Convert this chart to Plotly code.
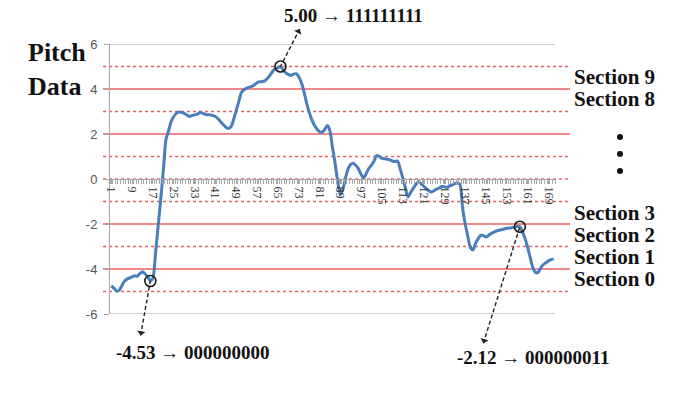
import plotly.graph_objects as go

# ---------------- data ----------------
categories = list(range(1, 172))
pitch = [
    -4.75, -4.85, -4.97, -4.95, -4.75, -4.55, -4.45, -4.40, -4.35, -4.30,
    -4.32, -4.20, -4.12, -4.22, -4.35, -4.53, -4.40, -3.30, -2.10, -0.90,
    0.40, 1.75, 2.15, 2.55, 2.78, 2.92, 2.98, 2.96, 2.92, 2.85,
    2.78, 2.82, 2.85, 2.88, 2.95, 2.93, 2.88, 2.86, 2.85, 2.82,
    2.78, 2.68, 2.55, 2.42, 2.30, 2.25, 2.32, 2.65, 3.05, 3.45,
    3.85, 3.97, 4.03, 4.08, 4.12, 4.18, 4.28, 4.32, 4.33, 4.36,
    4.48, 4.62, 4.78, 4.90, 4.95, 5.00, 4.85, 4.72, 4.65, 4.60,
    4.66, 4.68, 4.55, 4.30, 3.90, 3.40, 2.98, 2.65, 2.40, 2.22,
    2.10, 2.08, 2.20, 2.38, 2.15, 1.40, 0.70, -0.10, -0.70, -0.45,
    0.05, 0.45, 0.65, 0.70, 0.60, 0.45, 0.20, 0.05, 0.25, 0.48,
    0.62, 0.80, 1.05, 1.00, 0.92, 0.90, 0.88, 0.85, 0.80, 0.78,
    0.80, 0.45, 0.05, -0.40, -0.80, -0.60, -0.42, -0.25, -0.12, -0.20,
    -0.32, -0.42, -0.52, -0.58, -0.52, -0.45, -0.40, -0.33, -0.35, -0.37,
    -0.30, -0.27, -0.20, -0.18, -0.25, -1.30, -2.00, -2.55, -3.05, -3.15,
    -2.85, -2.65, -2.50, -2.52, -2.58, -2.50, -2.42, -2.36, -2.31, -2.28,
    -2.25, -2.22, -2.19, -2.18, -2.16, -2.14, -2.10, -2.12, -2.35, -2.65,
    -3.05, -3.50, -3.95, -4.15, -4.15, -3.95, -3.80, -3.72, -3.64, -3.58,
    -3.55,
]
x_tick_values = list(range(1, 172, 8))
x_tick_labels = [str(v) for v in x_tick_values]
y_range = [-6, 6]
y_tick_values = [-6, -4, -2, 0, 2, 4, 6]
y_tick_labels = ["-6", "-4", "-2", "0", "2", "4", "6"]
section_levels = [5, 4, 3, 2, 1, 0, -1, -2, -3, -4, -5]
marked_categories = [16, 66, 158]
marked_codes = ["000000000", "111111111", "000000011"]
upper_sections = ["Section 9", "Section 8"]
lower_sections = ["Section 3", "Section 2", "Section 1", "Section 0"]

# ---------------- layout helpers (pixel -> paper) ----------------
W, H = 685, 414
ML, MR, MT, MB = 110, 130, 44, 100
PW, PH = W - ML - MR, H - MT - MB


def px(x):
    return (x - ML) / PW


def py(y):
    return (H - MB - y) / PH


BLUE = "rgb(74,126,187)"
RED = "rgb(232,96,100)"
GRAY = "#a6a6a6"
SERIF = "Liberation Serif"

fig = go.Figure()
fig.add_trace(go.Scatter(
    x=categories, y=pitch, mode="lines",
    line=dict(color=BLUE, width=3, shape="spline", smoothing=0.7),
    hoverinfo="skip", showlegend=False,
))
mark_y = [pitch[c - 1] for c in marked_categories]
fig.add_trace(go.Scatter(
    x=marked_categories, y=mark_y, mode="markers",
    marker=dict(symbol="circle-open", size=11, color="#1a1a1a", line=dict(width=1.6)),
    cliponaxis=False, hoverinfo="skip", showlegend=False,
))

# gray top / bottom gridlines of the value axis
for lv in y_range:
    fig.add_shape(
        type="line", xref="paper", yref="y", x0=0, x1=1, y0=lv, y1=lv,
        line=dict(color="#c0c0c0", width=1.5), layer="below",
    )

# red section boundary lines
for lv in section_levels:
    fig.add_shape(
        type="line", xref="paper", yref="y",
        x0=px(103), x1=px(570), y0=lv, y1=lv,
        line=dict(color=RED, width=1.5, dash="solid" if lv in (4, 2, -2, -4) else "dot"),
        layer="below",
    )

# vertical ellipsis dots between Section 8 and Section 3
for yy in [137, 154, 171]:
    fig.add_shape(
        type="circle", xref="paper", yref="paper",
        x0=px(617), x1=px(623), y0=py(yy + 3), y1=py(yy - 3),
        fillcolor="#111", line=dict(width=0),
    )

annotations = []
# arrows (dashed via post script) from marked points to label
arrow_offsets = [(-10, 56), (20, -39), (-37, 118)]
for c, yv, (ax, ay) in zip(marked_categories, mark_y, arrow_offsets):
    annotations.append(dict(
        x=c, y=yv, xref="x", yref="y", text="", showarrow=True,
        ax=ax, ay=ay, arrowside="start", arrowhead=2, arrowsize=1.3,
        arrowwidth=1.4, arrowcolor="#222", standoff=6,
    ))

label_pos = [(193, 352), (353, 15), (533, 357)]
for c, yv, code, (lx, ly) in zip(marked_categories, mark_y, marked_codes, label_pos):
    annotations.append(dict(
        x=px(lx), y=py(ly), xref="paper", yref="paper", showarrow=False,
        text=f"<b>{yv:.2f} → {code}</b>", xanchor="center", yanchor="middle",
        font=dict(family=SERIF, size=19, color="#111"),
    ))

# axis title
for t, yy in [("Pitch", 52), ("Data", 86)]:
    annotations.append(dict(
        x=px(26), y=py(yy), xref="paper", yref="paper", showarrow=False,
        text=f"<b>{t}</b>", xanchor="left", yanchor="middle",
        font=dict(family=SERIF, size=26, color="#111"),
    ))

# section labels
for t, yy in zip(upper_sections, [77, 99]):
    annotations.append(dict(
        x=px(572), y=py(yy), xref="paper", yref="paper", showarrow=False,
        text=f"<b>{t}</b>", xanchor="left", yanchor="middle",
        font=dict(family=SERIF, size=21, color="#111"),
    ))
for t, yy in zip(lower_sections, [213, 235, 257, 279]):
    annotations.append(dict(
        x=px(572), y=py(yy), xref="paper", yref="paper", showarrow=False,
        text=f"<b>{t}</b>", xanchor="left", yanchor="middle",
        font=dict(family=SERIF, size=21, color="#111"),
    ))

fig.update_layout(
    width=W, height=H,
    margin=dict(l=ML, r=MR, t=MT, b=MB, pad=0),
    paper_bgcolor="white", plot_bgcolor="white",
    annotations=annotations,
    xaxis=dict(
        range=[0.5, 171.5], anchor="free", position=0.5,
        tickvals=x_tick_values, ticktext=x_tick_labels, tickangle=90,
        ticks="outside", ticklen=4, tickcolor=GRAY,
        minor=dict(tick0=0.5, dtick=1, ticks="outside", ticklen=4, tickcolor=GRAY, showgrid=False),
        showline=True, linecolor=GRAY, linewidth=1,
        showgrid=False, zeroline=False,
        tickfont=dict(family=SERIF, size=12, color="#333"),
    ),
    yaxis=dict(
        range=y_range, tickvals=y_tick_values, ticktext=y_tick_labels,
        ticks="outside", ticklen=5, tickcolor=GRAY,
        showline=True, linecolor=GRAY, linewidth=1,
        showgrid=False, zeroline=False,
        tickfont=dict(family="Liberation Sans", size=13, color="#555"),
        ticklabelstandoff=4,
    ),
)

post = """
document.body.style.margin = '0';
document.body.style.overflow = 'hidden';
var gd = document.getElementById('{plot_id}');
gd.querySelectorAll('.annotation-arrow-g').forEach(function(g){
  var p = g.querySelector('path');
  if (p) { p.style.strokeDasharray = '4,2.5'; }
});
"""
fig.write_html("out.html", post_script=post, config={"displayModeBar": False})
